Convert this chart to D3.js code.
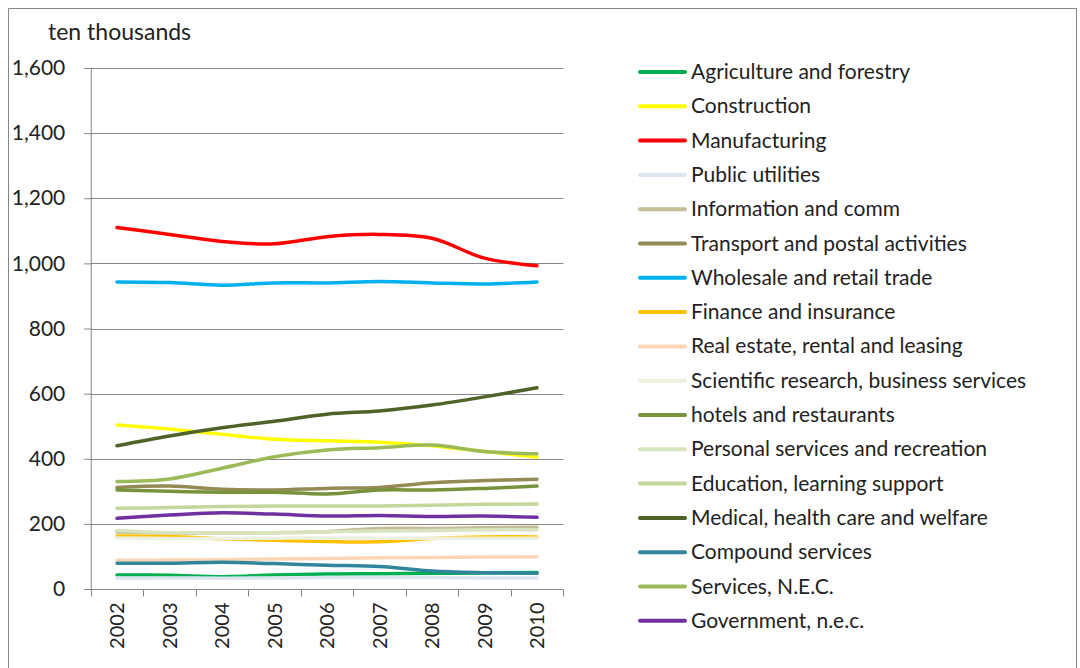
<!DOCTYPE html>
<html><head><meta charset="utf-8">
<script src="https://cdn.jsdelivr.net/npm/d3@7"></script>
<style>body{margin:0;background:#fff}svg{display:block}text{font-family:Lato,"Liberation Sans",Arial,sans-serif;fill:#222}</style>
</head><body><svg id="c" width="1080" height="668"></svg>
<script>
const years = ["2002","2003","2004","2005","2006","2007","2008","2009","2010"];
const yTicks = [0,200,400,600,800,1000,1200,1400,1600];
const names = ["Agriculture and forestry","Construction","Manufacturing","Public utilities","Information and comm","Transport and postal activities","Wholesale and retail trade","Finance and insurance","Real estate, rental and leasing","Scientific research, business services","hotels and restaurants","Personal services and recreation","Education, learning support","Medical, health care and welfare","Compound services","Services, N.E.C.","Government, n.e.c."];
const colors = ["#00B050","#FFFF00","#FF0000","#DBE5F1","#C4BD97","#948A54","#00B0F0","#FFC000","#FCD5B5","#EBF1DE","#77933C","#D7E4BD","#C3D69B","#4F6228","#31859C","#9BBB59","#7030A0"];
const agriculture = [43,42,38,43,46,47,48,49,51];
const construction = [504,491,475,460,455,451,440,422,405];
const manufacturing = [1110,1089,1067,1060,1082,1089,1077,1016,993];
const publicUtil = [34,34,33,34,35,35,35,34,34];
const infoComm = [175,172,172,173,176,186,186,188,190];
const transport = [312,316,306,304,309,312,326,333,337];
const wholesale = [943,941,933,940,940,944,940,937,943];
const finance = [163,161,154,150,146,145,155,160,160];
const realEstate = [88,89,90,92,94,96,97,98,99];
const scientific = [157,155,155,156,157,156,156,156,156];
const hotels = [304,300,297,297,292,304,304,309,316];
const personal = [180,173,173,173,176,178,180,182,182];
const education = [248,250,253,255,255,255,257,260,261];
const medical = [440,470,495,515,537,547,565,590,618];
const compound = [79,79,82,78,73,69,55,50,48];
const servicesNec = [330,338,371,406,427,434,442,422,415];
const government = [217,227,234,230,224,226,223,224,220];
const seriesValues = [agriculture,construction,manufacturing,publicUtil,infoComm,transport,wholesale,finance,realEstate,scientific,hotels,personal,education,medical,compound,servicesNec,government];

const svg = d3.select("#c");
svg.append("path").attr("d","M8.5,668 V8.5 H1076.5 V668").attr("fill","none").attr("stroke","#868686").attr("stroke-width",1);

const x = d3.scalePoint().domain(years).range([117,537]).padding(0);
const step = x.step();
const left = x(years[0]) - step/2, right = x(years[years.length-1]) + step/2;
const y = d3.scaleLinear().domain([0,1600]).range([589,68]);

svg.append("g").selectAll("line").data(yTicks.filter(d=>d>0)).join("line")
  .attr("x1",left).attr("x2",right).attr("y1",d=>Math.round(y(d))+0.5).attr("y2",d=>Math.round(y(d))+0.5)
  .attr("stroke","#868686").attr("stroke-width",1);

const ya = svg.append("g").attr("transform",`translate(${left+0.5},0)`)
  .call(d3.axisLeft(y).tickValues(yTicks).tickFormat(d3.format(",")).tickSize(7).tickPadding(19));
ya.select(".domain").attr("stroke","#868686").attr("d",`M0,${y(1600)}V${y(0)}`);
ya.selectAll(".tick line").attr("stroke","#868686");
ya.selectAll(".tick text").style("font-size","21px").attr("fill","#222");

const xa = svg.append("g").attr("transform",`translate(0,${Math.round(y(0))+0.5})`);
xa.append("line").attr("x1",left-7).attr("x2",right).attr("stroke","#868686");
const bounds = d3.range(years.length+1).map(i=>left+i*step);
xa.selectAll(".tk").data(bounds).join("line").attr("class","tk")
  .attr("x1",d=>Math.round(d)+0.5).attr("x2",d=>Math.round(d)+0.5).attr("y1",0).attr("y2",7).attr("stroke","#868686");
xa.selectAll(".lbl").data(years).join("text").attr("class","lbl")
  .attr("transform",d=>`translate(${x(d)+7},13) rotate(-90)`)
  .attr("text-anchor","end").style("font-size","20px").text(d=>d);

svg.append("text").attr("x",48).attr("y",40).style("font-size","23px").text("ten thousands");

const line = d3.line().x((d,i)=>x(years[i])).y(d=>y(d)).curve(d3.curveCatmullRom.alpha(0.5));
svg.append("g").selectAll("path").data(seriesValues).join("path")
  .attr("d",d=>line(d)).attr("fill","none").attr("stroke",(d,i)=>colors[i])
  .attr("stroke-width",3.5).attr("stroke-linecap","round").attr("stroke-linejoin","round");

const lg = svg.append("g").selectAll("g").data(names).join("g")
  .attr("transform",(d,i)=>`translate(640,${72+i*34.3})`);
lg.append("line").attr("x1",0).attr("x2",45).attr("stroke",(d,i)=>colors[i]).attr("stroke-width",4).attr("stroke-linecap","round");
lg.append("text").attr("x",51).attr("y",7).style("font-size","21px").text(d=>d);
</script></body></html>
